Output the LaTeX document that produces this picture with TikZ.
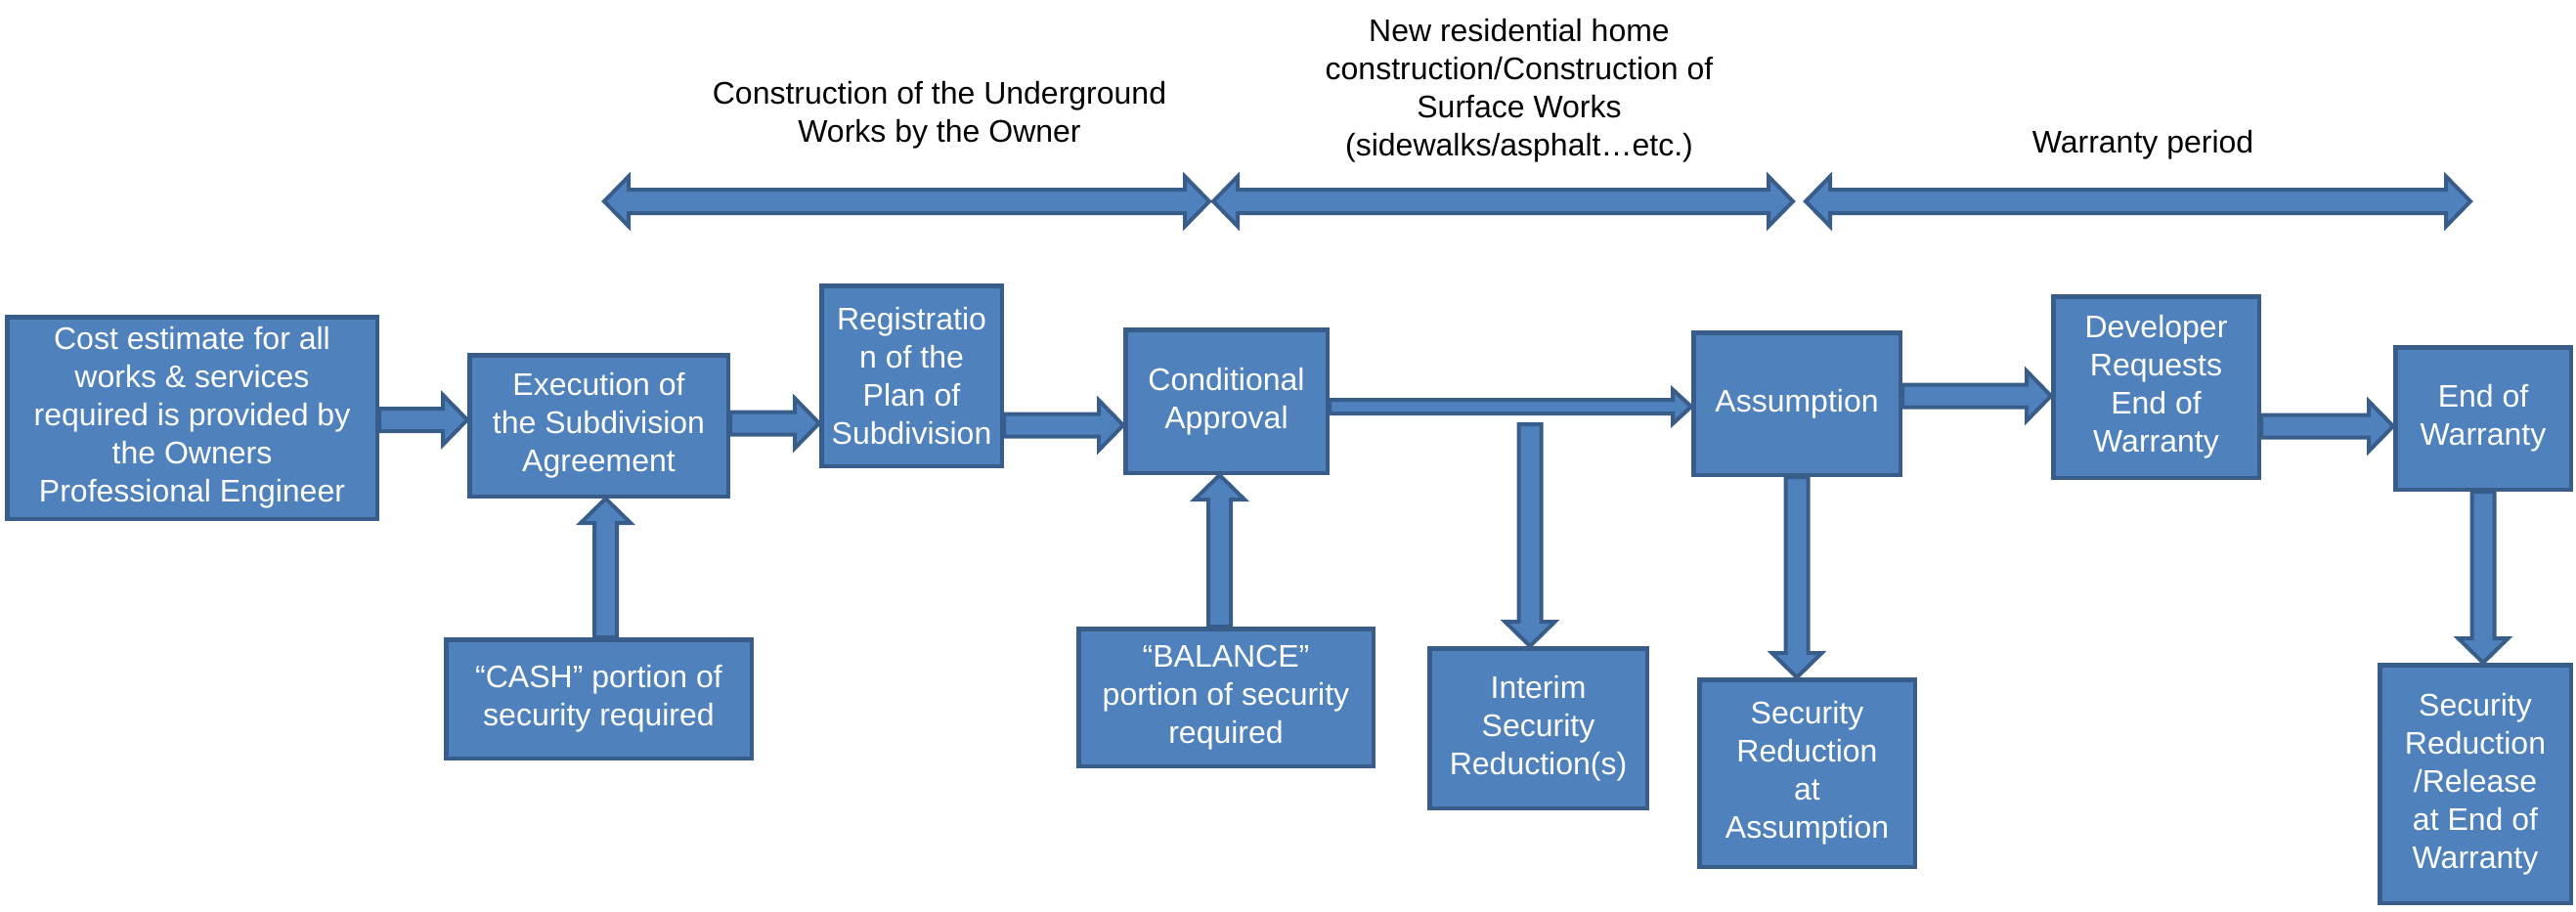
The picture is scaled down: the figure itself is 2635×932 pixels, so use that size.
\documentclass[tikz,border=0pt]{standalone}
\usepackage{fontspec}
\setmainfont{Liberation Sans}
\usetikzlibrary{calc}
\definecolor{boxfill}{RGB}{79,129,189}
\definecolor{boxline}{RGB}{56,93,138}
\tikzset{
    blk shaft/.store in=\blkshaft,
    blk head/.store in=\blkhead,
    blk tip/.store in=\blktip,
    blk shaft=11.5pt, blk head=25.5pt, blk tip=25pt,
    flow/.style={draw=boxline, fill=boxfill, line width=4pt, line join=miter,
        to path={let \p1=(\tikztostart), \p2=(\tikztotarget), \p3=($(\p2)!\blktip!(\p1)$) in
            ($(\p1)!\blkshaft!90:(\p2)$) -- ($(\p3)!\blkshaft!90:(\p2)$) -- ($(\p3)!\blkhead!90:(\p2)$)
            -- (\p2) -- ($(\p3)!\blkhead!-90:(\p2)$) -- ($(\p3)!\blkshaft!-90:(\p2)$)
            -- ($(\p1)!\blkshaft!-90:(\p2)$) -- cycle}},
    thin flow/.style={flow, blk shaft=7pt, blk head=17.5pt, blk tip=19pt},
    span/.style={draw=boxline, fill=boxfill, line width=4pt, line join=miter, blk shaft=12pt,
        to path={let \p1=(\tikztostart), \p2=(\tikztotarget), \p3=($(\p2)!\blktip!(\p1)$), \p4=($(\p1)!\blktip!(\p2)$) in
            (\p1) -- ($(\p4)!\blkhead!90:(\p2)$) -- ($(\p4)!\blkshaft!90:(\p2)$) -- ($(\p3)!\blkshaft!90:(\p2)$)
            -- ($(\p3)!\blkhead!90:(\p2)$) -- (\p2) -- ($(\p3)!\blkhead!-90:(\p2)$) -- ($(\p3)!\blkshaft!-90:(\p2)$)
            -- ($(\p4)!\blkshaft!-90:(\p2)$) -- ($(\p4)!\blkhead!-90:(\p2)$) -- cycle}}
}

\begin{document}
\begin{tikzpicture}[
    x=1pt, y=-1pt,
    font=\fontsize{32}{39}\selectfont,
    block/.style={rectangle, draw=boxline, fill=boxfill, line width=4.5pt, text=white, align=center, inner sep=0pt},
    phase/.style={align=center, text=black}
]
    \useasboundingbox (0,0) rectangle (2635,932);

    % Phases
    \node[phase] (underground) at (961,118) {Construction of the Underground\\Works by the Owner};
    \node[phase] (surface) at (1554,93) {New residential home\\construction/Construction of\\Surface Works\\(sidewalks/asphalt…etc.)};
    \node[phase] (warranty) at (2192,148) {Warranty period};
    \coordinate (under-l) at (618,206);
    \coordinate (under-r) at (1237,206);
    \coordinate (surf-l) at (1241,206);
    \coordinate (surf-r) at (1834,206);
    \coordinate (warr-l) at (1847,206);
    \coordinate (warr-r) at (2527,206);
    \path[span] (under-l) to (under-r);
    \path[span] (surf-l) to (surf-r);
    \path[span] (warr-l) to (warr-r);

    % Main steps
    \node[block, minimum width=378.5pt, minimum height=206.5pt] (cost) at (196.5,427.5) {Cost estimate for all\\works \& services\\required is provided by\\the Owners\\Professional Engineer};
    \node[block, minimum width=264.5pt, minimum height=144.5pt] (exec) at (612.5,435.5) {Execution of\\the Subdivision\\Agreement};
    \node[block, minimum width=184.5pt, minimum height=184.5pt] (regist) at (932.5,384.5) {Registratio\\n of the\\Plan of\\Subdivision};
    \node[block, minimum width=206.5pt, minimum height=146.5pt] (cond) at (1254.5,410.5) {Conditional\\Approval};
    \node[block, minimum width=211.5pt, minimum height=145.5pt] (assum) at (1838,413) {Assumption};
    \node[block, minimum width=210.5pt, minimum height=185.5pt] (devreq) at (2205.5,396) {Developer\\Requests\\End of\\Warranty};
    \node[block, minimum width=179.5pt, minimum height=145.5pt] (endw) at (2540,428) {End of\\Warranty};

    % Security steps
    \node[block, minimum width=312.5pt, minimum height=121.5pt] (cash) at (612.5,715) {“CASH” portion of\\security required};
    \node[block, minimum width=301.5pt, minimum height=140.5pt] (balance) at (1254,713.5) {“BALANCE”\\portion of security\\required};
    \node[block, minimum width=222.5pt, minimum height=163.5pt] (interim) at (1573.5,745) {Interim\\Security\\Reduction(s)};
    \node[block, minimum width=220.5pt, minimum height=191.5pt] (secassum) at (1848.5,791) {Security\\Reduction\\at\\Assumption};
    \node[block, minimum width=195.5pt, minimum height=243.5pt] (secrel) at (2532,802) {Security\\Reduction\\/Release\\at End of\\Warranty};

    % Connections
    \path[flow] (cost.east |- 0,429.5) to (exec.west |- 0,429.5);
    \path[flow] (exec.east |- 0,433) to (regist.west |- 0,433);
    \path[flow] (regist.east |- 0,435) to (cond.west |- 0,435);
    \path[thin flow] (cond.east |- 0,416) to (assum.west |- 0,416);
    \path[flow] (assum.east |- 0,405) to (devreq.west |- 0,405);
    \path[flow] (devreq.east |- 0,436) to (endw.west |- 0,436);
    \path[flow] (cash.north -| 619.5,0) to (exec.south -| 619.5,0);
    \path[flow] (balance.north -| 1247.5,0) to (cond.south -| 1247.5,0);
    \coordinate (split) at (1565,434);
    \path[flow] (split) to (interim.north -| split);
    \path[flow] (assum.south) to (secassum.north -| assum.south);
    \path[flow] (endw.south) to (secrel.north -| endw.south);
\end{tikzpicture}
\end{document}
